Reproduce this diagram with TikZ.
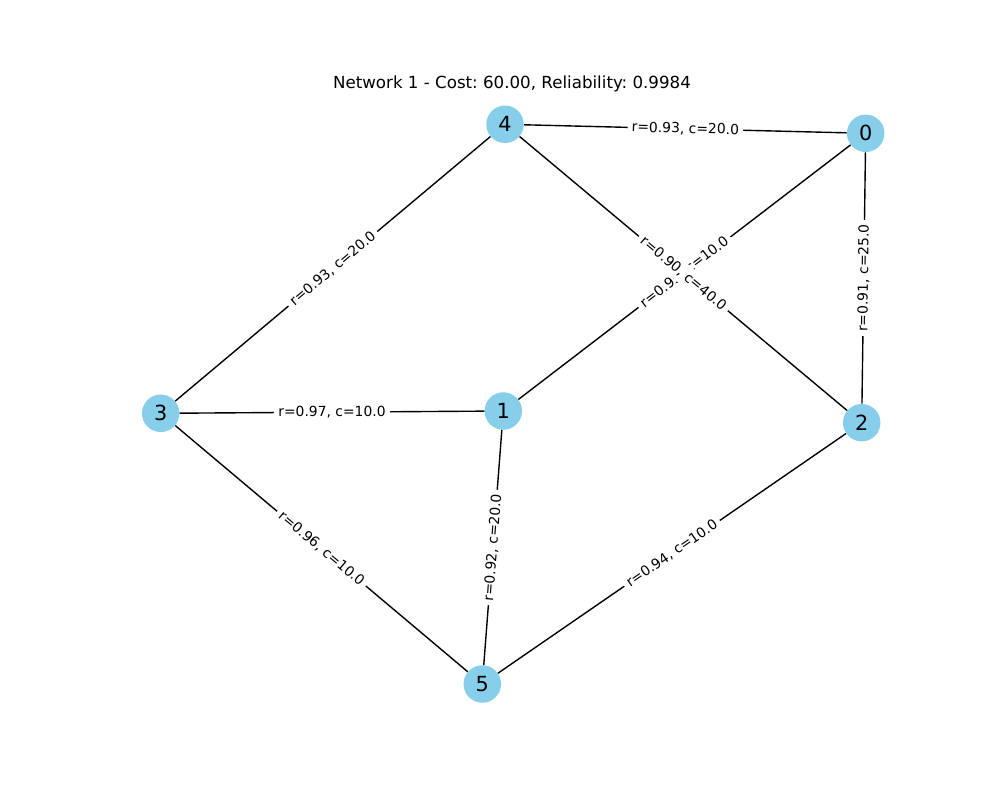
\documentclass[tikz,border=0pt]{standalone}
\usepackage{fontspec}
\setmainfont{DejaVu Sans}
\frenchspacing
\definecolor{skyblue}{RGB}{135,206,235}
\tikzstyle{vertex} = [circle, fill=skyblue, minimum size=27pt, inner sep=0pt, font=\fontsize{15}{18}\selectfont]
\tikzstyle{weight} = [midway, sloped, fill=white, rounded corners=3pt, inner sep=3pt, font=\fontsize{10}{12}\selectfont]
\tikzstyle{link} = [black, line width=1pt]

\begin{document}
\begin{tikzpicture}[x=0.72pt, y=-0.72pt]
			\useasboundingbox (0,0) rectangle (1000,800);
			\node (title) [anchor=base, font=\fontsize{12}{14}\selectfont] at (512,88) {Network 1 - Cost: 60.00, Reliability: 0.9984};
			
			\node (n0) [vertex] at (865.7,133.3) {0};
			\node (n1) [vertex] at (503.3,411) {1};
			\node (n2) [vertex] at (861.7,422.7) {2};
			\node (n3) [vertex] at (160.7,413.3) {3};
			\node (n4) [vertex] at (505,124.3) {4};
			\node (n5) [vertex] at (482.3,684) {5};
			
			\draw [link] (n4) -- (n0);
			\draw [link] (n0) -- (n1);
			\draw [link] (n0) -- (n2);
			\draw [link] (n4) -- (n3);
			\draw [link] (n4) -- (n2);
			\draw [link] (n3) -- (n1);
			\draw [link] (n1) -- (n5);
			\draw [link] (n3) -- (n5);
			\draw [link] (n5) -- (n2);
			
			% labels after the lines, so the boxes hide them
			\path (n4) -- (n0) node [weight] {r=0.93, c=20.0};
			\path (n0) -- (n1) node [weight] {r=0.95, c=10.0};
			\path (n0) -- (n2) node [weight] {r=0.91, c=25.0};
			\path (n4) -- (n3) node [weight] {r=0.93, c=20.0};
			\path (n4) -- (n2) node [weight] {r=0.90, c=40.0};
			\path (n3) -- (n1) node [weight] {r=0.97, c=10.0};
			\path (n1) -- (n5) node [weight] {r=0.92, c=20.0};
			\path (n3) -- (n5) node [weight] {r=0.96, c=10.0};
			\path (n5) -- (n2) node [weight] {r=0.94, c=10.0};
\end{tikzpicture}
\end{document}
